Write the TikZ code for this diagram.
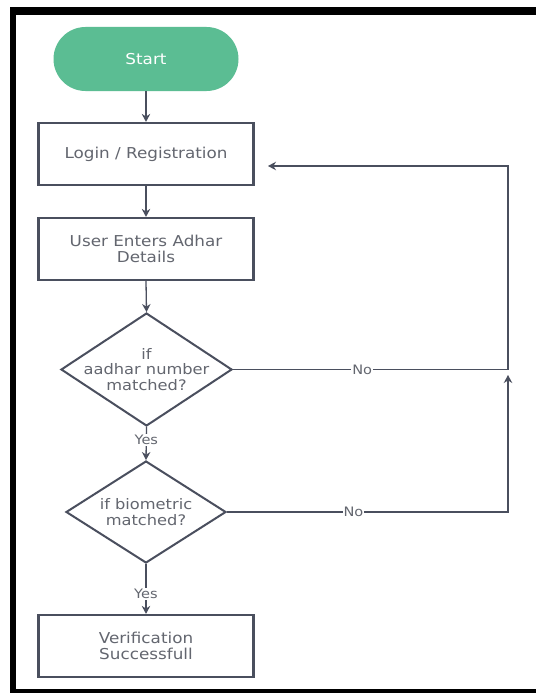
\documentclass[tikz,border=0pt]{standalone}
\usepackage{fontspec}
\setmainfont[FakeStretch=1.12]{DejaVu Sans}
\usetikzlibrary{shapes.geometric,arrows.meta}
\definecolor{ln}{HTML}{4A4F5E}
\definecolor{tx}{HTML}{63666F}
\definecolor{gr}{HTML}{5BBD93}
\tikzset{
  frame/.style={fill=black},
  boxnode/.style={draw=ln, line width=2.2pt, fill=white, minimum width=215pt, minimum height=62pt, inner sep=0pt},
  decnode/.style={diamond, draw=ln, line width=2pt, fill=white, inner sep=0pt},
  txt/.style={text=tx, font=\fontsize{15}{16}\selectfont, align=center},
  dtxt/.style={text=tx, font=\fontsize{14.5}{15.5}\selectfont, align=center},
  startnode/.style={fill=gr, rounded corners=32pt, minimum width=185pt, minimum height=64pt, text=white, font=\fontsize{15}{16}\selectfont},
  conn/.style={draw=ln, line width=1.3pt},
  arr/.style={conn, -{Stealth[length=8pt,width=8.5pt]}},
  lbl/.style={fill=white, text=tx, inner sep=1pt, font=\fontsize{13}{14}\selectfont}
}
\begin{document}
\begin{tikzpicture}[x=1pt,y=-1pt]
\useasboundingbox (0,0) rectangle (536,693);
\fill[white] (0,0) rectangle (536,693);
\fill[frame] (10,7) rectangle (536,15);
\fill[frame] (10,7) rectangle (16,693);
\fill[frame] (10,689) rectangle (536,693);

\node[startnode] (start) at (146,59) {Start};
\node[boxnode, txt] (login) at (146,154) {Login / Registration};
\node[boxnode, txt] (user) at (146,249) {User Enters Adhar\\Details};
\node[decnode, minimum width=171pt, minimum height=113pt] (d1) at (146.5,369.5) {};
\node[dtxt] (d1t) at (d1.center) {if\\aadhar number\\matched?};
\node[decnode, minimum width=160pt, minimum height=102pt] (d2) at (146,512) {};
\node[dtxt] (d2t) at (d2.center) {if biometric\\matched?};
\node[boxnode, txt] (ver) at (146,646) {Verification\\Successfull};

\coordinate (c1) at (508,369.5);
\coordinate (c2) at (508,166);
\coordinate (loginin) at (268,166);
\coordinate (c3) at (508,512);
\coordinate (c4) at (508,375);

\draw[arr] (start.south) -- (login.north);
\draw[arr] (login.south) -- (user.north);
\draw[arr] (user.south) -- (d1.north);
\draw[arr] (d1.south) -- node[lbl, pos=0.4] {Yes} (d2.north);
\draw[arr] (d2.south) -- node[lbl, pos=0.6] {Yes} (ver.north);
\draw[arr] (d1.east) -- node[lbl, pos=0.47] {No} (c1) -- (c2) -- (loginin);
\draw[arr] (d2.east) -- node[lbl, pos=0.45] {No} (c3) -- (c4);
\end{tikzpicture}
\end{document}
